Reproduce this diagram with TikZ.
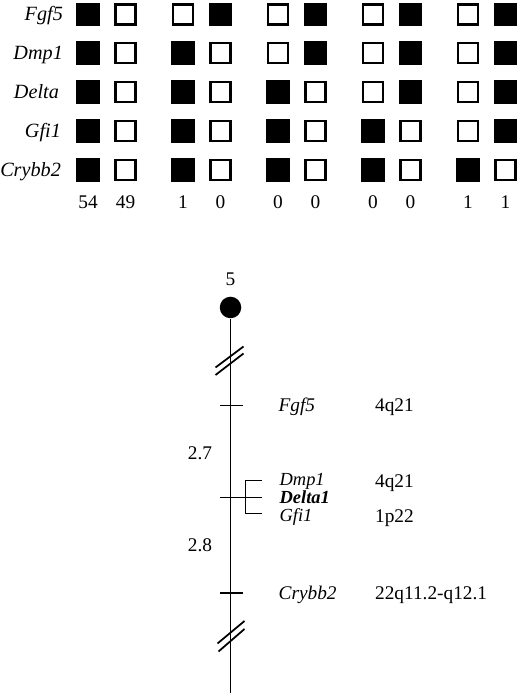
\documentclass[tikz,border=0pt]{standalone}
\usepackage{fontspec}
\setmainfont{Liberation Serif}

\begin{document}
\begin{tikzpicture}[
  x=1cm, y=1cm,
  every node/.style={inner sep=1pt},
  fullbox/.style={rectangle, draw, fill=black, minimum size=0.45cm, inner sep=0pt},
  openbox/.style={rectangle, draw, fill=white, line width=1.4pt, minimum size=0.40cm, inner sep=0pt},
  gene/.style={font=\fontsize{11}{13}\selectfont\itshape, text height=2.5mm, text depth=0pt},
  locus/.style={font=\fontsize{11.5}{14}\selectfont\itshape, text height=2.6mm, text depth=0pt},
  roman/.style={font=\fontsize{11}{13}\selectfont, text height=2.5mm, text depth=0pt},
  chrom/.style={draw, line width=1.1pt},
  tick/.style={draw, line width=1pt},
  declare function={colx(\c)=1.76+1.90*int((\c-1)/2)+0.75*mod(\c-1,2);}]

  \useasboundingbox (0,0) rectangle (10.4,13.92);

  % loci beside the grid
  \node[locus, anchor=east] (gfgf)  at (1.30,13.63) {Fgf5};
  \node[locus, anchor=east] (gdmp)  at (1.30,12.86) {Dmp1};
  \node[locus, anchor=east] (gdel)  at (1.22,12.08) {Delta};
  \node[locus, anchor=east] (ggfi)  at (1.26,11.30) {Gfi1};
  \node[locus, anchor=east] (gcry)  at (1.26,10.52) {Crybb2};

  % haplotype boxes, one row per locus
  \foreach \s [count=\c] in {fullbox,openbox,openbox,fullbox,openbox,fullbox,openbox,fullbox,openbox,fullbox}
    \node[\s] (fgf\c) at ({colx(\c)},13.63) {};
  \foreach \s [count=\c] in {fullbox,openbox,fullbox,openbox,openbox,fullbox,openbox,fullbox,openbox,fullbox}
    \node[\s] (dmp\c) at ({colx(\c)},12.86) {};
  \foreach \s [count=\c] in {fullbox,openbox,fullbox,openbox,fullbox,openbox,openbox,fullbox,openbox,fullbox}
    \node[\s] (del\c) at ({colx(\c)},12.08) {};
  \foreach \s [count=\c] in {fullbox,openbox,fullbox,openbox,fullbox,openbox,fullbox,openbox,openbox,fullbox}
    \node[\s] (gfi\c) at ({colx(\c)},11.30) {};
  \foreach \s [count=\c] in {fullbox,openbox,fullbox,openbox,fullbox,openbox,fullbox,openbox,fullbox,openbox}
    \node[\s] (cry\c) at ({colx(\c)},10.52) {};

  % number of mice per haplotype
  \foreach \n [count=\c] in {54,49,1,0,0,0,0,0,1,1}
    \node[roman] (cnt\c) at ({colx(\c)},9.88) {\n};

  % chromosome
  \node[roman] (chrno) at (4.61,8.34) {5};
  \node[circle, fill=black, minimum size=0.43cm, inner sep=0pt] (cen) at (4.61,7.77) {};
  \coordinate (chrend) at (4.61,0.06);
  \draw[chrom] (cen) -- (chrend);

  % breaks
  \draw[tick] (4.31,6.57) -- (4.87,6.99);
  \draw[tick] (4.31,6.42) -- (4.87,6.85);
  \draw[tick] (4.35,1.05) -- (4.89,1.50);
  \draw[tick] (4.37,0.89) -- (4.89,1.34);

  % loci on the map
  \draw[tick] (4.40,5.81) -- (4.85,5.81);
  \draw[tick] (4.40,3.97) -- (5.23,3.97);
  \draw[tick] (5.23,4.31) -- (4.91,4.31) -- (4.91,3.65) -- (5.23,3.65);
  \draw[tick] (4.40,2.06) -- (4.86,2.06);

  % distances in cM
  \node[roman] (d1) at (4.00,4.86) {2.7};
  \node[roman] (d2) at (4.00,3.02) {2.8};

  % gene names and human map positions
  \node[gene, anchor=west] (mfgf) at (5.53,5.81) {Fgf5};
  \node[gene, anchor=west, font=\fontsize{10.5}{12}\selectfont\itshape] (mdmp) at (5.55,4.33) {Dmp1};
  \node[gene, anchor=west, font=\fontsize{10.5}{12}\selectfont\bfseries\itshape] (mdel) at (5.55,3.97) {Delta1};
  \node[gene, anchor=west, font=\fontsize{10.5}{12}\selectfont\itshape] (mgfi) at (5.55,3.61) {Gfi1};
  \node[gene, anchor=west] (mcry) at (5.53,2.06) {Crybb2};

  \node[roman, anchor=west] (hfgf) at (7.46,5.81) {4q21};
  \node[roman, anchor=west] (hdmp) at (7.46,4.30) {4q21};
  \node[roman, anchor=west] (hgfi) at (7.46,3.60) {1p22};
  \node[roman, anchor=west] (hcry) at (7.46,2.06) {22q11.2-q12.1};
\end{tikzpicture}
\end{document}
